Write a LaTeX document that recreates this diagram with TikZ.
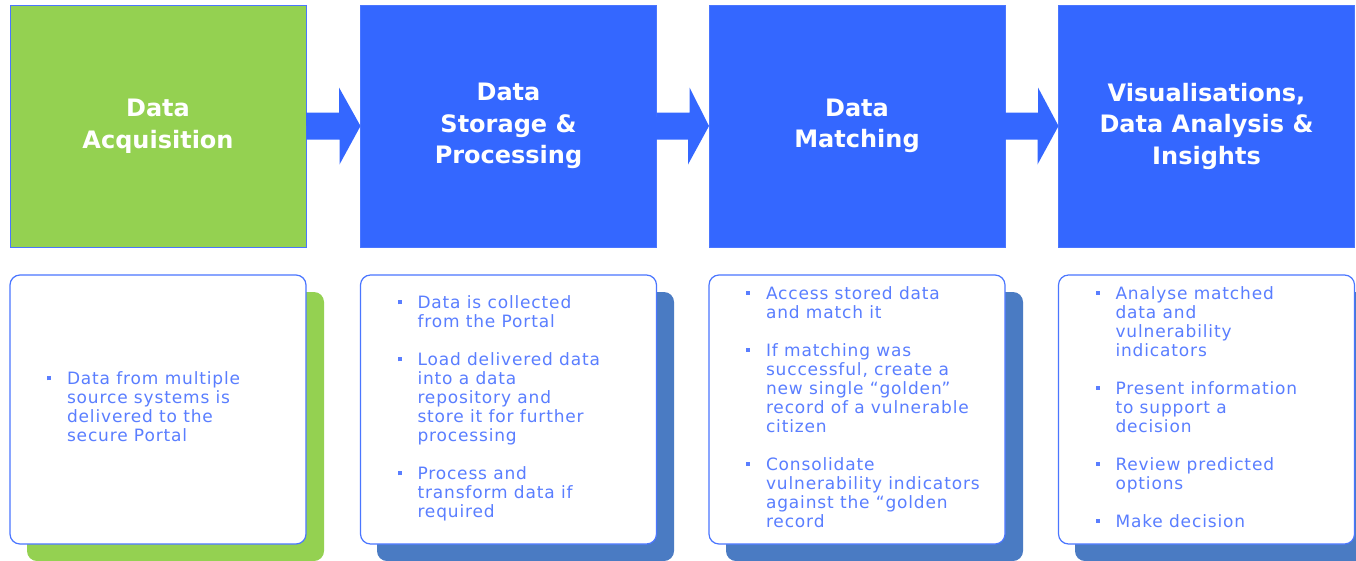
\documentclass[tikz,border=0pt]{standalone}
\usepackage{fontspec}
\setmainfont{DejaVu Sans}
\usetikzlibrary{calc}
\definecolor{topblue}{HTML}{3467FF}
\definecolor{accgreen}{HTML}{94D151}
\definecolor{edgeblue}{HTML}{4A76FF}
\definecolor{txtblue}{HTML}{5A7EFF}
\definecolor{shadowblue}{HTML}{4A7BC3}
\newcommand{\blt}{\textcolor{txtblue}{\rule[4.5pt]{4pt}{4pt}}}
\begin{document}
\begin{tikzpicture}[x=1pt,y=-1pt,
  topbox/.style={draw=edgeblue, line width=1pt, minimum width=296pt, minimum height=242pt,
    inner sep=0pt, outer sep=0pt, text=white, align=center,
    font=\bfseries\fontsize{24}{31.5}\selectfont},
  flow/.style={fill=topblue},
  shadowbox/.style={rounded corners=10pt, minimum width=297pt, minimum height=269pt,
    inner sep=0pt, outer sep=0pt},
  cardbox/.style={draw=edgeblue, fill=white, line width=1.2pt, rounded corners=10pt,
    minimum width=296pt, minimum height=269pt, inner sep=0pt, outer sep=0pt},
  cardtext/.style={anchor=west, inner sep=0pt, outer sep=0pt, text=txtblue,
    font=\fontsize{17}{19}\selectfont\addfontfeatures{LetterSpace=5}}
]
\useasboundingbox (0,0) rectangle (1356,560);
\clip (0,0) rectangle (1356,560);
\fill[white] (0,0) rectangle (1356,560);

% top boxes
\node[topbox, fill=accgreen] (b1) at (158,126) {Data\\Acquisition};
\node[topbox, fill=topblue] (b2) at (508.5,126) {Data\\Storage \&\\Processing};
\node[topbox, fill=topblue] (b3) at (857,126) {Data\\Matching};
\node[topbox, fill=topblue] (b4) at (1206.5,126) {Visualisations,\\Data Analysis \&\\Insights};

% block arrows
\foreach \a/\b in {b1/b2, b2/b3, b3/b4}{
  \fill[flow] (\a.east) ++(0,-13.5) -- ++(33,0) -- ++(0,-25) -- (\b.west)
     -- ++(-21,38.5) -- ++(0,-25) -- ++(-33,0) -- cycle;
}

% shadows
\node[shadowbox, fill=accgreen] (s1) at (175.5,426.5) {};
\node[shadowbox, fill=shadowblue] (s2) at (525.5,426.5) {};
\node[shadowbox, fill=shadowblue] (s3) at (874.5,426.5) {};
\node[shadowbox, fill=shadowblue] (s4) at (1223.5,426.5) {};

% cards
\node[cardbox] (d1) at (158,409.5) {};
\node[cardbox] (d2) at (508.5,409.5) {};
\node[cardbox] (d3) at (857,409.5) {};
\node[cardbox] (d4) at (1206.5,409.5) {};

\node[cardtext] (t1) at ([xshift=37pt]d1.west) {\begin{tabular}{@{}l@{\hspace{16pt}}l@{}}
\blt & Data from multiple\\
 & source systems is\\
 & delivered to the\\
 & secure Portal
\end{tabular}};

\node[cardtext] (t2) at ([xshift=37pt]d2.west) {\begin{tabular}{@{}l@{\hspace{16pt}}l@{}}
\blt & Data is collected\\
 & from the Portal\\
 & \\
\blt & Load delivered data\\
 & into a data\\
 & repository and\\
 & store it for further\\
 & processing\\
 & \\
\blt & Process and\\
 & transform data if\\
 & required
\end{tabular}};

\node[cardtext] (t3) at ([xshift=37pt]d3.west) {\begin{tabular}{@{}l@{\hspace{16pt}}l@{}}
\blt & Access stored data\\
 & and match it\\
 & \\
\blt & If matching was\\
 & successful, create a\\
 & new single “golden"\\
 & record of a vulnerable\\
 & citizen\\
 & \\
\blt & Consolidate\\
 & vulnerability indicators\\
 & against the “golden\\
 & record
\end{tabular}};

\node[cardtext] (t4) at ([xshift=37pt]d4.west) {\begin{tabular}{@{}l@{\hspace{16pt}}l@{}}
\blt & Analyse matched\\
 & data and\\
 & vulnerability\\
 & indicators\\
 & \\
\blt & Present information\\
 & to support a\\
 & decision\\
 & \\
\blt & Review predicted\\
 & options\\
 & \\
\blt & Make decision
\end{tabular}};
\end{tikzpicture}
\end{document}
